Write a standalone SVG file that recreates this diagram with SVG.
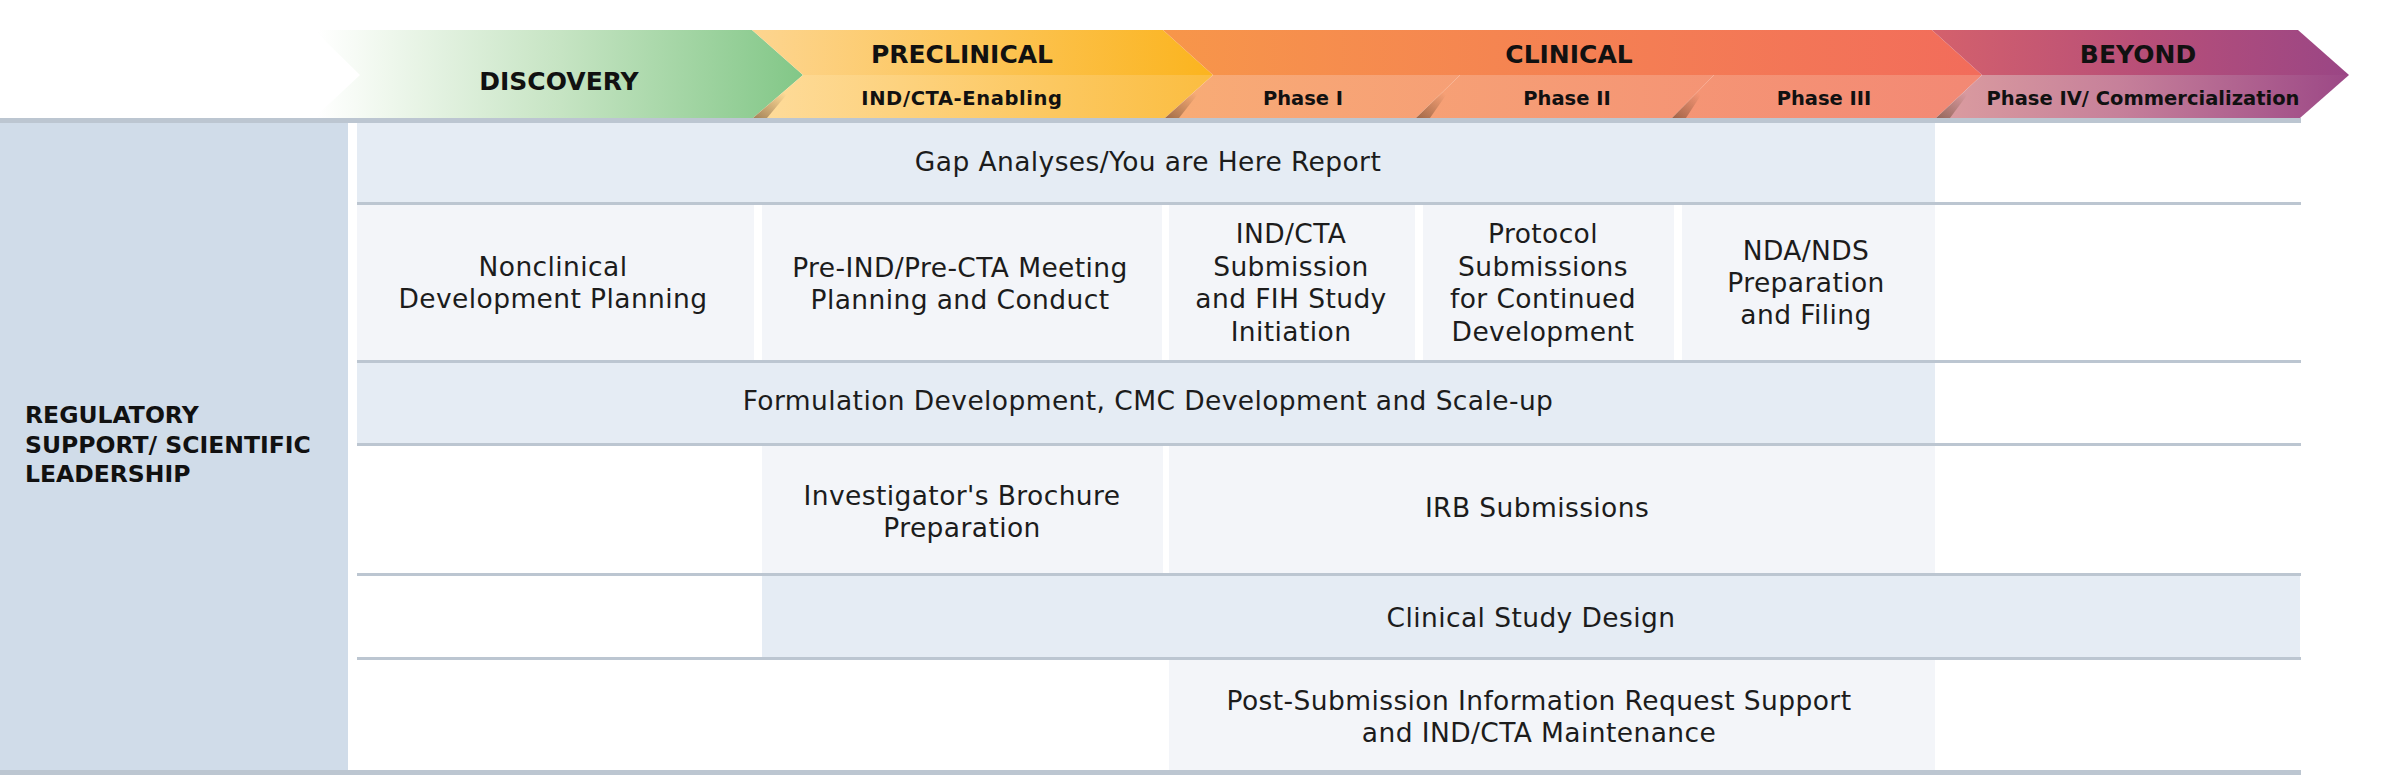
<svg xmlns="http://www.w3.org/2000/svg" width="2386" height="775" viewBox="0 0 2386 775">
<defs>
<linearGradient id="gDisc" gradientUnits="userSpaceOnUse" x1="318" y1="0" x2="803" y2="0">
<stop offset="0" stop-color="#ffffff"/><stop offset="0.15" stop-color="#eef7ec"/><stop offset="0.5" stop-color="#c6e4c3"/><stop offset="1" stop-color="#82c787"/>
</linearGradient>
<linearGradient id="gPreT" gradientUnits="userSpaceOnUse" x1="752" y1="0" x2="1213" y2="0">
<stop offset="0" stop-color="#fdd590"/><stop offset="1" stop-color="#fbb41e"/>
</linearGradient>
<linearGradient id="gPreS" gradientUnits="userSpaceOnUse" x1="752" y1="0" x2="1213" y2="0">
<stop offset="0" stop-color="#fedc9c"/><stop offset="1" stop-color="#fbbd40"/>
</linearGradient>
<linearGradient id="gCliT" gradientUnits="userSpaceOnUse" x1="1163" y1="0" x2="1982" y2="0">
<stop offset="0" stop-color="#f7964a"/><stop offset="1" stop-color="#f26c5b"/>
</linearGradient>
<linearGradient id="gCliS" gradientUnits="userSpaceOnUse" x1="1163" y1="0" x2="1982" y2="0">
<stop offset="0" stop-color="#f8ac76"/><stop offset="1" stop-color="#f38874"/>
</linearGradient>
<linearGradient id="gBeyT" gradientUnits="userSpaceOnUse" x1="1932" y1="0" x2="2349" y2="0">
<stop offset="0" stop-color="#d4616c"/><stop offset="0.5" stop-color="#b84f78"/><stop offset="1" stop-color="#9a4685"/>
</linearGradient>
<linearGradient id="gBeyS" gradientUnits="userSpaceOnUse" x1="1932" y1="0" x2="2349" y2="0">
<stop offset="0" stop-color="#dc9ea0"/><stop offset="0.45" stop-color="#c6809a"/><stop offset="1" stop-color="#9c4886"/>
</linearGradient>
<linearGradient id="gShadow" x1="0" y1="1" x2="0.55" y2="0.35">
<stop offset="0" stop-color="#5a3a22" stop-opacity="0.55"/><stop offset="1" stop-color="#5a3a22" stop-opacity="0"/>
</linearGradient>
<style>
.hdr{font-family:"DejaVu Sans","Liberation Sans",sans-serif;font-weight:bold;font-size:25px;fill:#111;text-anchor:middle}
.sub{font-family:"DejaVu Sans","Liberation Sans",sans-serif;font-weight:bold;font-size:19.5px;fill:#111;text-anchor:middle}
.body{font-family:"DejaVu Sans","Liberation Sans",sans-serif;font-size:26.5px;letter-spacing:0.4px;fill:#1c1c1c;text-anchor:middle}
.lbl{font-family:"DejaVu Sans","Liberation Sans",sans-serif;font-weight:bold;font-size:23.5px;fill:#111}
.band{fill:#e5ecf4}
.cell{fill:#f3f5f9}
.rule{fill:#bcc6d1}
.shadow{fill:url(#gShadow)}
</style>
</defs>
<rect width="2386" height="775" fill="#ffffff"/>

<g id="banner">
<g id="discovery">
<polygon points="314,30 752,30 803,75 753,118 314,118 360,75" fill="url(#gDisc)"/>
<text class="hdr" x="559" y="90">DISCOVERY</text>
</g>
<g id="preclinical">
<polygon points="752,30 1163,30 1213,75 803,75" fill="url(#gPreT)"/>
<polygon points="803,75 1213,75 1165,118 753,118" fill="url(#gPreS)"/>
<polygon class="shadow" points="803,75 753,118 767,118"/>
<text class="hdr" x="962" y="63">PRECLINICAL</text>
<text class="sub" x="962" y="105" style="letter-spacing:0.6px">IND/CTA-Enabling</text>
</g>
<g id="clinical">
<polygon points="1163,30 1932,30 1982,75 1213,75" fill="url(#gCliT)"/>
<text class="hdr" x="1569" y="63">CLINICAL</text>
</g>
<g id="phase1">
<polygon points="1213,75 1460,75 1416,118 1165,118" fill="url(#gCliS)"/>
<polygon class="shadow" points="1213,75 1165,118 1179,118"/>
<text class="sub" x="1303" y="105">Phase I</text>
</g>
<g id="phase2">
<polygon points="1460,75 1714,75 1672,118 1416,118" fill="url(#gCliS)"/>
<polygon class="shadow" points="1460,75 1416,118 1430,118"/>
<text class="sub" x="1567" y="105">Phase II</text>
</g>
<g id="phase3">
<polygon points="1714,75 1982,75 1936,118 1672,118" fill="url(#gCliS)"/>
<polygon class="shadow" points="1714,75 1672,118 1686,118"/>
<text class="sub" x="1824" y="105">Phase III</text>
</g>
<g id="beyond">
<polygon points="1932,30 2298,30 2349,75 1982,75" fill="url(#gBeyT)"/>
<polygon points="1982,75 2349,75 2300,118 1936,118" fill="url(#gBeyS)"/>
<polygon class="shadow" points="1982,75 1936,118 1950,118"/>
<text class="hdr" x="2138" y="63">BEYOND</text>
<text class="sub" x="2143" y="105">Phase IV/ Commercialization</text>
</g>
</g>

<g id="side-label">
<rect x="0" y="123" width="348" height="647" fill="#d0dce9"/>
<text class="lbl" x="25" y="423">REGULATORY</text>
<text class="lbl" x="25" y="453">SUPPORT/ SCIENTIFIC</text>
<text class="lbl" x="25" y="482">LEADERSHIP</text>
</g>

<g id="gap-analyses">
<rect class="band" x="357" y="123" width="1578" height="79"/>
<text class="body" x="1148" y="171">Gap Analyses/You are Here Report</text>
</g>
<g id="nonclinical">
<rect class="cell" x="357" y="205" width="397" height="155"/>
<text class="body" x="553" y="276">Nonclinical</text>
<text class="body" x="553" y="308">Development Planning</text>
</g>
<g id="pre-ind">
<rect class="cell" x="762" y="205" width="400" height="155"/>
<text class="body" x="960" y="277">Pre-IND/Pre-CTA Meeting</text>
<text class="body" x="960" y="309">Planning and Conduct</text>
</g>
<g id="ind-submission">
<rect class="cell" x="1169" y="205" width="246" height="155"/>
<text class="body" x="1291" y="243">IND/CTA</text>
<text class="body" x="1291" y="276">Submission</text>
<text class="body" x="1291" y="308">and FIH Study</text>
<text class="body" x="1291" y="341">Initiation</text>
</g>
<g id="protocol">
<rect class="cell" x="1423" y="205" width="251" height="155"/>
<text class="body" x="1543" y="243">Protocol</text>
<text class="body" x="1543" y="276">Submissions</text>
<text class="body" x="1543" y="308">for Continued</text>
<text class="body" x="1543" y="341">Development</text>
</g>
<g id="nda">
<rect class="cell" x="1682" y="205" width="253" height="155"/>
<text class="body" x="1806" y="260">NDA/NDS</text>
<text class="body" x="1806" y="292">Preparation</text>
<text class="body" x="1806" y="324">and Filing</text>
</g>
<g id="formulation">
<rect class="band" x="357" y="363" width="1578" height="80"/>
<text class="body" x="1148" y="410">Formulation Development, CMC Development and Scale-up</text>
</g>
<g id="investigator-brochure">
<rect class="cell" x="762" y="446" width="401" height="127"/>
<text class="body" x="962" y="505">Investigator's Brochure</text>
<text class="body" x="962" y="537">Preparation</text>
</g>
<g id="irb">
<rect class="cell" x="1169" y="446" width="766" height="127"/>
<text class="body" x="1537" y="517">IRB Submissions</text>
</g>
<g id="clinical-study-design">
<rect class="band" x="762" y="576" width="1538" height="81"/>
<text class="body" x="1531" y="627">Clinical Study Design</text>
</g>
<g id="post-submission">
<rect class="cell" x="1169" y="660" width="766" height="110"/>
<text class="body" x="1539" y="710">Post-Submission Information Request Support</text>
<text class="body" x="1539" y="742">and IND/CTA Maintenance</text>
</g>

<g id="rules">
<rect class="rule" x="0" y="118" width="2301" height="5"/>
<rect class="rule" x="357" y="202" width="1944" height="3"/>
<rect class="rule" x="357" y="360" width="1944" height="3"/>
<rect class="rule" x="357" y="443" width="1944" height="3"/>
<rect class="rule" x="357" y="573" width="1944" height="3"/>
<rect class="rule" x="357" y="657" width="1944" height="3"/>
<rect class="rule" x="0" y="770" width="2301" height="5"/>
</g>
</svg>
